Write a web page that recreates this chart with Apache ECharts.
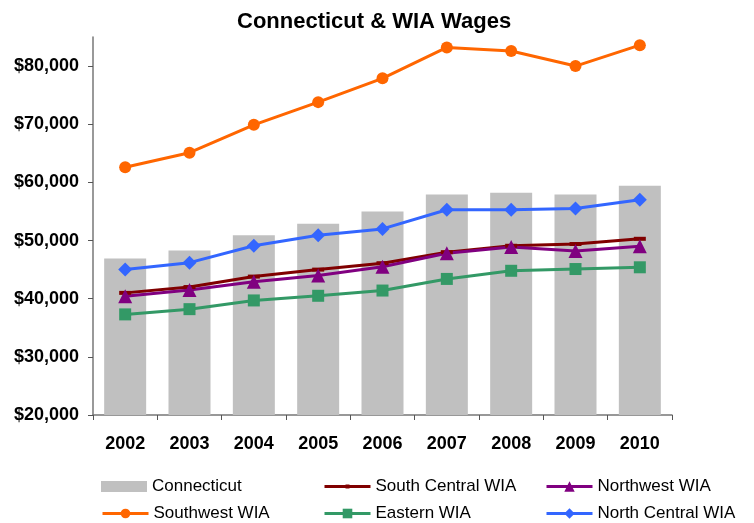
<!DOCTYPE html>
<html>
<head>
<meta charset="utf-8">
<script src="https://cdn.jsdelivr.net/npm/echarts@6/dist/echarts.min.js"></script>
<style>
  html, body { margin: 0; padding: 0; background: #fff; }
  #chart { width: 754px; height: 523px; }
</style>
</head>
<body>
<div id="chart"></div>
<script>
var years = ['2002', '2003', '2004', '2005', '2006', '2007', '2008', '2009', '2010'];
var connecticut = [46900, 48300, 50900, 52900, 55000, 57900, 58200, 57900, 59400];
var southCentral = [41000, 42000, 43800, 45000, 46100, 48000, 49100, 49400, 50300];
var northwest = [40400, 41500, 42900, 44000, 45500, 47800, 48900, 48200, 49000];
var southwest = [62600, 65100, 69900, 73800, 77900, 83200, 82600, 80000, 83600];
var eastern = [37300, 38200, 39700, 40500, 41400, 43400, 44800, 45100, 45400];
var northCentral = [45000, 46200, 49100, 50900, 52000, 55300, 55300, 55500, 57000];

var font = 'Liberation Sans, Arial, sans-serif';

var chart = echarts.init(document.getElementById('chart'));

function lineSeries(name, data, color, symbol, size) {
    return {
        name: name,
        type: 'line',
        data: data,
        symbol: symbol,
        symbolSize: size,
        lineStyle: { color: color, width: 3 },
        itemStyle: { color: color },
        z: 3
    };
}

// legend slots: [name, left, top, icon height]
var legendSlots = [
    ['Connecticut', 101, 478, 11],
    ['South Central WIA', 323, 478, 5],
    ['Northwest WIA', 545, 478, 13],
    ['Southwest WIA', 101, 505, 12],
    ['Eastern WIA', 323, 505, 12],
    ['North Central WIA', 545, 505, 13]
];

var legends = legendSlots.map(function(s) {
    var isBar = s[0] === 'Connecticut';
    return {
        data: [{ name: s[0], icon: isBar ? 'rect' : undefined }],
        left: s[1],
        top: s[2],
        padding: 0,
        itemWidth: 46,
        itemHeight: s[3],
        lineStyle: { width: 3 },
        textStyle: { fontFamily: font, fontSize: 17, color: '#000' },
        selectedMode: false
    };
});

var option = {
    animation: false,
    title: {
        text: 'Connecticut & WIA Wages',
        left: 232,
        top: 6,
        textStyle: { fontFamily: font, fontSize: 22, fontWeight: 'bold', color: '#000' }
    },
    legend: legends,
    grid: { left: 93, right: 82, top: 37, bottom: 108 },
    xAxis: {
        type: 'category',
        data: years,
        boundaryGap: true,
        axisLine: { lineStyle: { color: '#777', width: 1.5 } },
        axisTick: { show: true, length: 5, alignWithLabel: false, lineStyle: { color: '#555' } },
        axisLabel: { fontFamily: font, fontSize: 18, fontWeight: 'bold', color: '#000', margin: 20 }
    },
    yAxis: {
        type: 'value',
        min: 20000,
        max: 85000,
        interval: 10000,
        axisLine: { show: true, lineStyle: { color: '#777', width: 1.5 } },
        axisTick: { show: true, length: 5, lineStyle: { color: '#555' } },
        splitLine: { show: false },
        axisLabel: {
            fontFamily: font, fontSize: 18, fontWeight: 'bold', color: '#000', margin: 14,
            showMaxLabel: false,
            formatter: function(v) {
                return '$' + v.toString().replace(/\B(?=(\d{3})+(?!\d))/g, ',');
            }
        }
    },
    series: [
        {
            name: 'Connecticut',
            type: 'bar',
            data: connecticut,
            barWidth: 42,
            itemStyle: { color: '#c0c0c0' },
            z: 1
        },
        lineSeries('South Central WIA', southCentral, '#800000', 'rect', [12, 4]),
        lineSeries('Northwest WIA', northwest, '#800080', 'triangle', 14),
        lineSeries('Southwest WIA', southwest, '#ff6600', 'circle', 12),
        lineSeries('Eastern WIA', eastern, '#339966', 'rect', 12),
        lineSeries('North Central WIA', northCentral, '#3366ff', 'diamond', 14)
    ]
};

chart.setOption(option);
</script>
</body>
</html>
